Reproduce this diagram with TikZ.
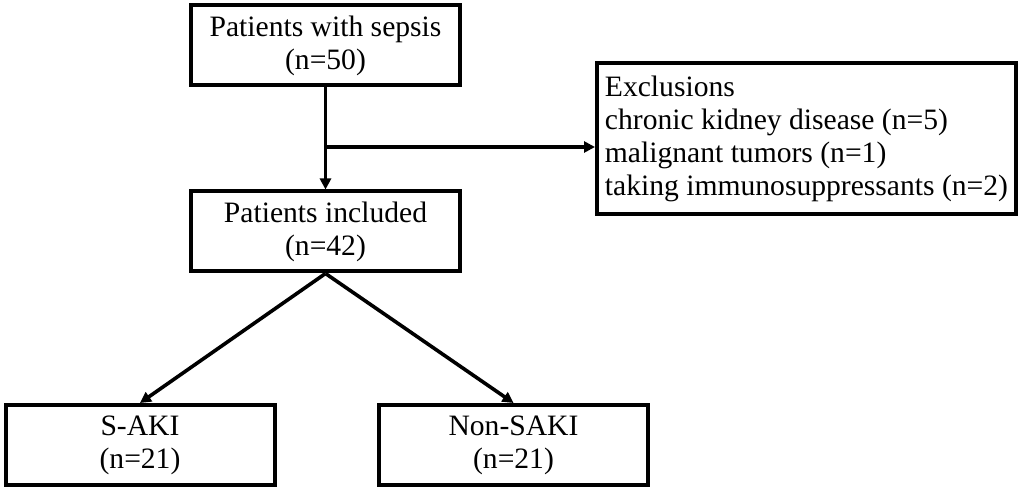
\documentclass[tikz,border=0pt]{standalone}
\usepackage{fontspec}
\setmainfont{Liberation Serif}
\usetikzlibrary{arrows.meta,positioning,calc}
\tikzset{
  box/.style  ={draw,line width=2pt,minimum width=134.5pt,minimum height=40pt,inner sep=0pt,align=center,font=\fontsize{14.8}{16.5}\selectfont},
  exbox/.style={box,minimum width=209.5pt,minimum height=75.5pt,align=left},
  flow/.style ={-{Triangle[length=5.5pt,width=5.5pt]},line width=1.8pt},
}
\begin{document}
\begin{tikzpicture}[x=0.5pt,y=-0.5pt]
  \useasboundingbox (0,0) rectangle (1024,492);
  % top: screened, excluded and included patients
  \node[box] (sepsis) at (325.5,45.5) {Patients with sepsis\\(n=50)};
  \node[box] (incl) at (325.5,231.5) {Patients included\\(n=42)};
  \node[exbox] (excl) at (806.5,138.5) {Exclusions\\chronic kidney disease (n=5)\\malignant tumors (n=1)\\taking immunosuppressants (n=2)};
  % bottom: the two groups
  \node[box] (saki) at (140,445) {S-AKI\\(n=21)};
  \node[box] (nonsaki) at (513.5,445) {Non-SAKI\\(n=21)};
  \coordinate (split) at (325.5,147);
  \draw[flow] (sepsis) -- (incl);
  \draw[flow] (split) -- (split -| excl.west);
  \draw[flow] (incl.south) -- (saki.north);
  \draw[flow] (incl.south) -- (nonsaki.north);
\end{tikzpicture}
\end{document}
